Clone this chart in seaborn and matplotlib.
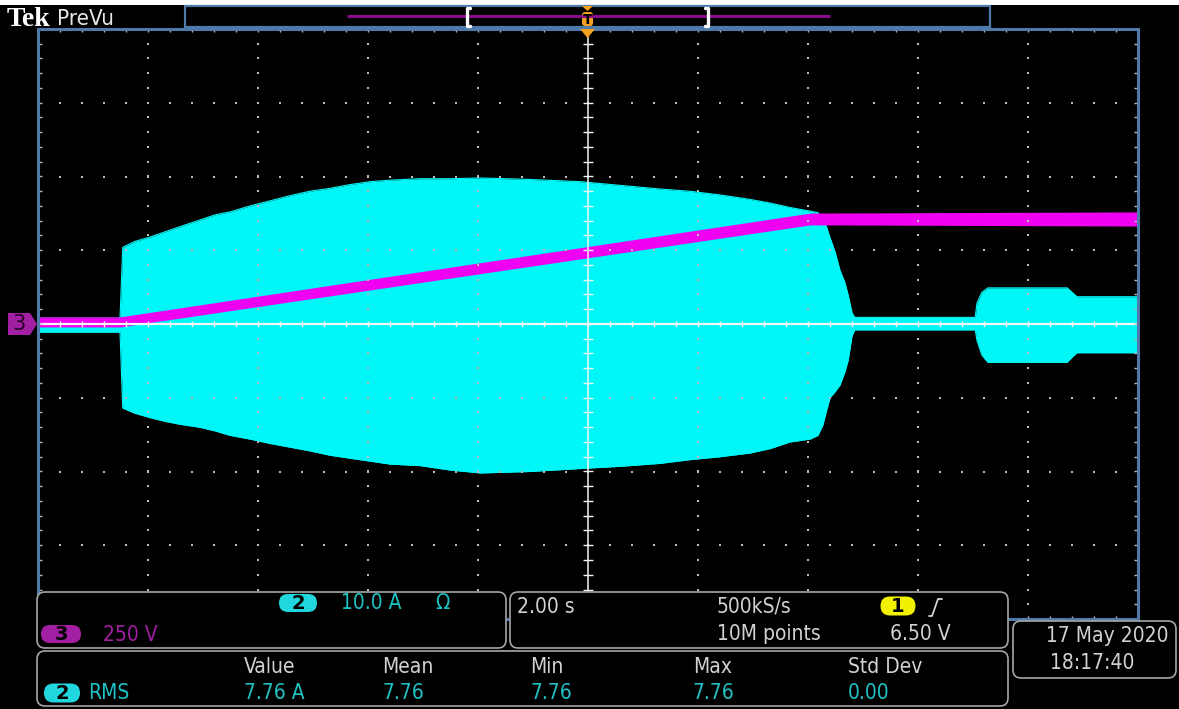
import numpy as np
import matplotlib
matplotlib.use("Agg")
import matplotlib.pyplot as plt
from matplotlib import font_manager as fm
import seaborn as sns
from matplotlib.patches import FancyBboxPatch, Polygon, Rectangle

# ---------------------------------------------------------------------------
# Channel 2 (current probe, 10.0 A/div): envelope of the captured waveform
time_s = [-10.0, -8.50, -8.45, -8.23, -7.95, -7.68, -7.41, -7.05, -6.77, -6.50,
          -6.14, -5.77, -5.41, -5.05, -4.68, -4.32, -3.95, -3.59, -3.05, -2.50,
          -1.95, -1.05, -0.14, 0.59, 1.32, 1.86, 2.41, 2.95, 3.32, 3.68,
          4.05, 4.19, 4.28, 4.34, 4.41, 4.50, 4.59, 4.68, 4.74, 4.81,
          4.86, 7.05, 7.08, 7.17, 7.28, 8.72, 8.81, 8.90, 10.0]
current_max_a = [0.8, 0.8, 10.4, 11.2, 11.8, 12.5, 13.2, 14.1, 14.8, 15.2,
                 16.0, 16.7, 17.4, 18.0, 18.4, 18.9, 19.3, 19.5, 19.7, 19.7,
                 19.8, 19.6, 19.3, 18.8, 18.3, 18.0, 17.5, 16.9, 16.4, 15.8,
                 15.3, 15.1, 14.1, 13.3, 11.7, 9.8, 7.3, 5.6, 3.9, 1.5,
                 0.9, 0.9, 2.8, 4.3, 4.9, 4.9, 4.3, 3.7, 3.7]
current_min_a = [-1.1, -1.1, -11.4, -12.1, -12.7, -13.2, -13.6, -14.0, -14.5, -15.1,
                 -15.6, -16.2, -16.7, -17.2, -17.8, -18.2, -18.6, -19.0, -19.2, -19.8,
                 -20.2, -20.0, -19.6, -19.3, -18.9, -18.4, -18.0, -17.5, -16.9, -16.0,
                 -15.6, -15.1, -13.7, -11.9, -10.0, -9.2, -8.3, -6.5, -4.9, -1.6,
                 -0.8, -0.8, -2.2, -4.2, -5.2, -5.2, -4.5, -3.9, -3.9]

# Channel 3 (line voltage, 250 V/div): trace centre and ripple half-width
voltage_time_s = [-10.0, -8.50, 4.05, 10.0]
voltage_v = [7, 7, 356, 356]
voltage_ripple_v = [17, 17, 20, 24]

# Readouts
ch2_scale = "10.0 A"
ch3_scale = "250 V"
timebase = "2.00 s"
sample_rate = "500kS/s"
record_length = "10M points"
trigger_level = "6.50 V"
meas_headers = ["Value", "Mean", "Min", "Max", "Std Dev"]
meas_values = ["7.76 A", "7.76", "7.76", "7.76", "0.00"]
date_text = "17 May 2020"
clock_text = "18:17:40"

# ---------------------------------------------------------------------------
CYAN = "#00f7f7"
MAGENTA = "#f000f0"
FRAME = "#4d7aa8"
DOT = "#bcbcbc"
TEXT = "#d2d2d2"
TEAL = "#1fc3c6"
PURPLE = "#a11fa3"
BADGE_CYAN = "#22d6de"
ORANGE = "#f3a11e"
PANEL_EDGE = "#a6a6a6"

sns.set_theme(style="dark", rc={
    "axes.facecolor": "black", "figure.facecolor": "black",
    "axes.edgecolor": FRAME, "axes.grid": False,
})
plt.rcParams["font.family"] = ["DejaVu Sans"]


def narrow_font():
    """Return the file of an installed narrow/condensed regular sans face."""
    ranked = ["Liberation Sans Narrow", "DejaVu Sans", "Roboto Condensed",
              "Roboto", "Noto Sans", "Open Sans", "Lato", "Inter"]
    best = None
    for f in fm.fontManager.ttflist:
        narrow = ("Narrow" in f.name or "Condensed" in f.name
                  or f.stretch in ("condensed", "semi-condensed"))
        if not narrow or f.style != "normal" or f.weight not in (400, "normal", "regular"):
            continue
        fam = f.name
        rank = ranked.index(fam) if fam in ranked else len(ranked)
        if best is None or rank < best[0]:
            best = (rank, f.fname)
    return best[1] if best else None


_nf = narrow_font()
if _nf:
    UI = dict(fontproperties=fm.FontProperties(fname=_nf, size=15))
else:
    UI = dict(family="DejaVu Sans", fontsize=13)

W, H = 1179, 709
fig = plt.figure(figsize=(W / 100, H / 100), dpi=100)


def frac_box(x0, y0, x1, y1):
    """Pixel box (top-left origin) -> figure fraction rect."""
    return [x0 / W, 1 - y1 / H, (x1 - x0) / W, (y1 - y0) / H]


GRAT = frac_box(37.5, 29, 1137.5, 619)

# --- current channel --------------------------------------------------------
ax_i = fig.add_axes(GRAT, zorder=1)
ax_i.set_facecolor("black")
ax_i.set_xlim(-10, 10)
ax_i.set_ylim(-40, 40)
ax_i.fill_between(time_s, current_min_a, current_max_a, color=CYAN, lw=0)
sns.lineplot(x=time_s, y=current_max_a, ax=ax_i, color=CYAN, lw=0.8,
             estimator=None, sort=False)
sns.lineplot(x=time_s, y=current_min_a, ax=ax_i, color=CYAN, lw=0.8,
             estimator=None, sort=False)

# --- voltage channel --------------------------------------------------------
ax_v = fig.add_axes(GRAT, zorder=2, sharex=ax_i)
ax_v.patch.set_visible(False)
ax_v.set_ylim(-1000, 1000)
v_lo = [v - r for v, r in zip(voltage_v, voltage_ripple_v)]
v_hi = [v + r for v, r in zip(voltage_v, voltage_ripple_v)]
ax_v.fill_between(voltage_time_s, v_lo, v_hi, color=MAGENTA, lw=0)
sns.lineplot(x=voltage_time_s, y=voltage_v, ax=ax_v, color=MAGENTA, lw=1.0,
             estimator=None, sort=False)

for a in (ax_i, ax_v):
    a.set_xticks([])
    a.set_yticks([])
    a.set_xlabel("")
    a.set_ylabel("")
    for s in a.spines.values():
        s.set_visible(False)

# --- graticule (in divisions), drawn over the traces ------------------------
ax_g = fig.add_axes(GRAT, zorder=3)
ax_g.patch.set_visible(False)
ax_g.set_xlim(-5, 5)
ax_g.set_ylim(-4, 4)
ax_g.set_xticks([])
ax_g.set_yticks([])
for s in ax_g.spines.values():
    s.set_color(FRAME)
    s.set_linewidth(2.2)

minor_x = np.arange(-5, 5.001, 0.2)
minor_y = np.arange(-4, 4.001, 0.2)
for gy in (-3, -2, -1, 1, 2, 3):
    ax_g.scatter(minor_x, np.full_like(minor_x, gy), marker="s", s=2.4,
                 color=DOT, lw=0)
for gx in (-4, -3, -2, -1, 1, 2, 3, 4):
    ax_g.scatter(np.full_like(minor_y, gx), minor_y, marker="s", s=2.4,
                 color=DOT, lw=0)
ax_g.axhline(0, color="#f4f4f4", lw=1.6)
ax_g.axvline(0, color="#f4f4f4", lw=1.1)
ax_g.plot(minor_x, np.zeros_like(minor_x), ls="none", marker="|", ms=4.5,
          mew=1.0, color="#f4f4f4")
ax_g.plot(np.zeros_like(minor_y), minor_y, ls="none", marker="_", ms=7,
          mew=1.0, color="#f4f4f4")
# border ticks
for edge in (-4, 4):
    ax_g.plot(minor_x, np.full_like(minor_x, edge), ls="none", marker="|",
              ms=5, mew=1.0, color=DOT)
for edge in (-5, 5):
    ax_g.plot(np.full_like(minor_y, edge), minor_y, ls="none", marker="_",
              ms=6, mew=1.0, color=DOT)

# --- overlay in pixel coordinates: header, markers, readout panels ----------
ov = fig.add_axes([0, 0, 1, 1], zorder=4)
ov.patch.set_visible(False)
ov.set_xlim(0, W)
ov.set_ylim(H, 0)
ov.axis("off")

ov.add_patch(Rectangle((0, 0), W, 5, color="white", lw=0))
ov.text(7, 26, "Tek", color="white", fontsize=20, fontweight="bold",
        family=["Liberation Serif", "DejaVu Serif"], va="baseline", ha="left")
if _nf:
    ov.text(57, 25, "PreVu", color="#e8e8e8", va="baseline", ha="left",
            fontproperties=fm.FontProperties(fname=_nf, size=16))
else:
    ov.text(57, 25, "PreVu", color="#e8e8e8", fontsize=14, va="baseline",
            ha="left")

# record overview bar
ov.add_patch(Rectangle((185, 6), 805, 21, fc="black", ec=FRAME, lw=1.6))
ov.plot([347, 830], [16, 16], color="#8a0a8c", lw=2.2, solid_capstyle="butt")
ov.plot([470, 467, 467, 470], [7.5, 7.5, 25.5, 25.5], color="white", lw=2.4)
ov.plot([705, 708, 708, 705], [7.5, 7.5, 25.5, 25.5], color="white", lw=2.4)
ov.add_patch(Polygon([(582, 6), (593, 6), (587.5, 11)], color=ORANGE, lw=0))
ov.add_patch(FancyBboxPatch((582, 12), 11, 14,
                            boxstyle="round,pad=0,rounding_size=3",
                            fc=ORANGE, ec="none"))
ov.text(587.5, 19.5, "T", color="black", fontsize=10, fontweight="bold",
        family="DejaVu Sans", ha="center", va="center", zorder=5)
# trigger position marker
ov.add_patch(Polygon([(580, 29), (595, 29), (587.5, 38)], color=ORANGE, lw=0))

# channel 3 ground marker
ov.add_patch(Polygon([(8, 313), (30, 313), (37, 324), (30, 335), (8, 335)],
                     fc="#a21ea2", ec="none"))
ov.text(19, 324.5, "3", color="#2a002a", fontsize=15, ha="center", va="center")


def panel(x0, y0, x1, y1):
    ov.add_patch(FancyBboxPatch((x0, y0), x1 - x0, y1 - y0,
                                boxstyle="round,pad=0,rounding_size=8",
                                fc="black", ec=PANEL_EDGE, lw=1.2))


def badge(cx, cy, w, h, fc, label):
    ov.add_patch(FancyBboxPatch((cx - w / 2, cy - h / 2), w, h,
                                boxstyle=f"round,pad=0,rounding_size={h / 2}",
                                fc=fc, ec="none"))
    ov.text(cx, cy + 0.5, label, color="black", fontsize=14, fontweight="bold",
            ha="center", va="center")


def label(x, y, s, color, **kw):
    ov.text(x, y, s, color=color, va="center", **UI, **kw)


panel(37, 592, 506, 648)
panel(510, 592, 1008, 648)
panel(37, 651, 1008, 706)
panel(1013, 621, 1176, 678)

# vertical settings
badge(298, 603, 38, 18, BADGE_CYAN, "2")
label(341, 603, ch2_scale, TEAL)
label(435, 603, "Ω", TEAL)
badge(61, 634, 40, 18, "#a21ea2", "3")
label(103, 635, ch3_scale, PURPLE)

# horizontal / trigger settings
label(517, 607, timebase, TEXT)
label(717, 607, sample_rate, TEXT)
label(717, 634, record_length, TEXT)
badge(898, 606, 35, 19, "#f2f200", "1")
ov.plot([929, 932, 938, 942], [616, 616, 599, 599], color=TEXT, lw=1.3)
label(890, 634, trigger_level, TEXT)

# measurement table
badge(62, 693, 36, 19, BADGE_CYAN, "2")
label(88, 693, "RMS", TEAL)
for x, head, val in zip([244, 382, 530, 693, 848], meas_headers, meas_values):
    label(x, 667, head, TEXT)
    label(x, 693, val, TEAL)

# date / time
label(1168, 636, date_text, TEXT, ha="right")
label(1050, 663, clock_text, TEXT)

fig.savefig("out.png", dpi=100, facecolor="black")
